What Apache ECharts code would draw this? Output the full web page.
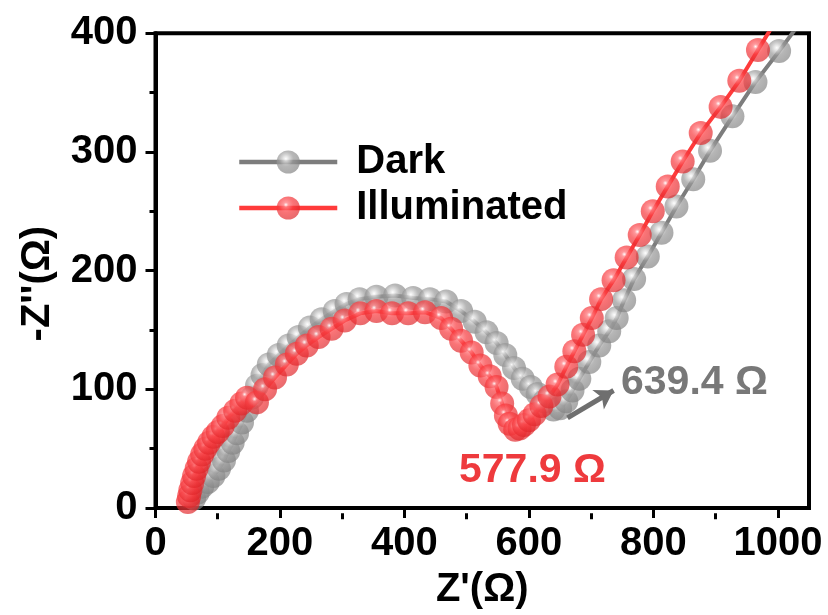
<!DOCTYPE html>
<html>
<head>
<meta charset="utf-8">
<script src="https://cdn.jsdelivr.net/npm/echarts@6/dist/echarts.min.js"></script>
<style>
  html, body { margin: 0; padding: 0; background: #fff; }
  #chart { width: 828px; height: 615px; }
</style>
</head>
<body>
<div id="chart"></div>
<script>
// Nyquist data: real part Z' and imaginary part -Z'' (Ω)
const darkZre = [62, 68, 75, 84, 93, 102, 110, 117, 124, 131, 139, 147, 155, 163, 172, 182, 198, 214, 230, 248, 267, 288, 307, 328, 355, 385, 414, 441, 467, 491, 513, 532, 548, 562, 576, 590, 603, 614, 625, 639.4, 650, 660, 670, 681, 697, 713, 729, 741, 753, 769, 791, 813, 837, 864, 891, 927, 964, 1002, 1040];
const darkZim = [8, 13, 18, 22, 27, 33, 40, 48, 55, 63, 72, 82, 93, 103, 112, 121, 129, 137, 144, 152, 159, 166, 172, 176, 178, 179, 177, 176, 174, 166, 157, 148, 139, 129, 118, 109, 102, 96, 90, 83, 84, 90, 99, 109, 123, 137, 149, 160, 175, 193, 212, 232, 254, 277, 301, 330, 359, 385, 412];

const illumZre = [52, 54, 56, 59, 62, 66, 70, 75, 80, 86, 93, 100, 108, 117, 128, 138, 147, 163, 176, 192, 211, 227, 243, 262, 283, 304, 329, 355, 380, 406, 433, 459, 475, 491, 508, 522, 537, 548, 557, 563, 569, 577.9, 585, 592, 600, 609, 620, 633, 646, 660, 673, 687, 701, 716, 736, 757, 778, 799, 823, 847, 876, 908, 938, 968, 996];
const illumZim = [5, 10, 15, 21, 27, 33, 39, 45, 50, 55, 60, 64, 69, 76, 82, 88, 93, 89, 100, 110, 121, 130, 137, 144, 151, 158, 164, 166, 164, 164, 165, 160, 151, 141, 131, 120, 111, 102, 88, 78, 71, 66, 67, 70, 74, 79, 86, 94, 104, 119, 132, 146, 160, 176, 192, 211, 230, 250, 271, 292, 316, 338, 360, 386, 410];

const seriesNames = ['Dark', 'Illuminated'];
const xMajorTicks = [0, 200, 400, 600, 800, 1000];
const xMinorTicks = [100, 300, 500, 700, 900];

// Minimum points of the two arcs, used for the annotations
const darkMinZ = 639.4;
const illumMinZ = 577.9;

const FONT = '"Liberation Sans", Arial, sans-serif';
const FS = 40;

function pairs(xs, ys) { return xs.map((x, i) => [x, ys[i]]); }

// glossy translucent sphere fill for the markers
function ball(r, g, b) {
  const lift = (v, d) => Math.max(0, Math.min(255, v + d));
  return new echarts.graphic.RadialGradient(0.4, 0.36, 0.64, [
    { offset: 0, color: 'rgba(255,255,255,0.95)' },
    { offset: 0.16, color: `rgba(${lift(r, 70)},${lift(g, 70)},${lift(b, 70)},0.82)` },
    { offset: 0.5, color: `rgba(${r},${g},${b},0.72)` },
    { offset: 1, color: `rgba(${lift(r, -25)},${lift(g, -25)},${lift(b, -25)},0.68)` }
  ]);
}

const grid = { left: 155.5, right: 19, top: 33.3, bottom: 101.7 };

const chart = echarts.init(document.getElementById('chart'), null, { renderer: 'canvas' });

chart.setOption({
  animation: false,
  backgroundColor: '#fff',
  textStyle: { fontFamily: FONT },
  grid: [
    Object.assign({ show: true, borderColor: '#000', borderWidth: 4, containLabel: false }, grid),
    Object.assign({ show: false }, grid)
  ],
  legend: {
    orient: 'vertical',
    left: 237,
    top: 142,
    padding: 0,
    itemWidth: 98,
    itemHeight: 29,
    itemGap: 6,
    data: seriesNames,
    lineStyle: { width: 4.5 },
    textStyle: { fontFamily: FONT, fontWeight: 'bold', fontSize: FS, color: '#000', padding: [0, 0, 0, 14] }
  },
  xAxis: [
    {
      type: 'value', gridIndex: 0, min: 0, max: 1050,
      name: "Z'(Ω)", nameLocation: 'middle', nameGap: 62,
      nameTextStyle: { fontFamily: FONT, fontWeight: 'bold', fontSize: FS, color: '#000' },
      axisLine: { show: true, lineStyle: { color: '#000', width: 4 } },
      axisTick: { show: true, inside: false, length: 10, customValues: xMajorTicks, lineStyle: { color: '#000', width: 3 } },
      axisLabel: { customValues: xMajorTicks, margin: 16, formatter: v => String(v), fontFamily: FONT, fontWeight: 'bold', fontSize: FS, color: '#000' },
      splitLine: { show: false }
    },
    {
      type: 'value', gridIndex: 1, min: 0, max: 1050,
      axisLine: { show: false },
      axisTick: { show: true, inside: false, length: 6, customValues: xMinorTicks, lineStyle: { color: '#000', width: 3 } },
      axisLabel: { show: false },
      splitLine: { show: false }
    }
  ],
  yAxis: [
    {
      type: 'value', gridIndex: 0, min: 0, max: 400, interval: 100,
      name: "-Z''(Ω)", nameLocation: 'middle', nameGap: 98, nameRotate: 90,
      nameTextStyle: { fontFamily: FONT, fontWeight: 'bold', fontSize: FS, color: '#000', padding: [0, 26, 0, 0] },
      axisLine: { show: true, lineStyle: { color: '#000', width: 4 } },
      axisTick: { show: true, inside: false, length: 10, lineStyle: { color: '#000', width: 3 } },
      minorTick: { show: true, splitNumber: 2, length: 6, lineStyle: { color: '#000', width: 3 } },
      axisLabel: { margin: 18, formatter: v => String(v), fontFamily: FONT, fontWeight: 'bold', fontSize: FS, color: '#000' },
      splitLine: { show: false }
    },
    { type: 'value', gridIndex: 1, min: 0, max: 400, show: false }
  ],
  series: [
    {
      name: seriesNames[0], type: 'line', xAxisIndex: 0, yAxisIndex: 0,
      data: pairs(darkZre, darkZim),
      clip: true, showAllSymbol: true,
      symbol: 'circle', symbolSize: 24,
      lineStyle: { color: '#7d7d7d', width: 4 },
      itemStyle: { color: ball(155, 155, 155), borderWidth: 0 },
      markLine: {
        silent: true, animation: false,
        symbol: ['none', 'arrow'], symbolSize: [17, 18],
        lineStyle: { color: '#6f6f6f', width: 5, type: 'solid' },
        label: { show: false },
        data: [[{ coord: [662, 76] }, { coord: [736, 99] }]]
      }
    },
    {
      name: seriesNames[1], type: 'line', xAxisIndex: 0, yAxisIndex: 0,
      data: pairs(illumZre, illumZim),
      clip: true, showAllSymbol: true,
      symbol: 'circle', symbolSize: 24,
      lineStyle: { color: '#ff3b3b', width: 4 },
      itemStyle: { color: ball(248, 62, 66), borderWidth: 0 }
    }
  ],
  graphic: [
    {
      type: 'text', left: 621, top: 362, silent: true,
      style: { text: darkMinZ.toFixed(1) + ' Ω', font: `bold 41px ${FONT}`, fill: '#787878' }
    },
    {
      type: 'text', left: 459, top: 450, silent: true,
      style: { text: illumMinZ.toFixed(1) + ' Ω', font: `bold 41px ${FONT}`, fill: '#ee3a3d' }
    }
  ]
});
</script>
</body>
</html>
